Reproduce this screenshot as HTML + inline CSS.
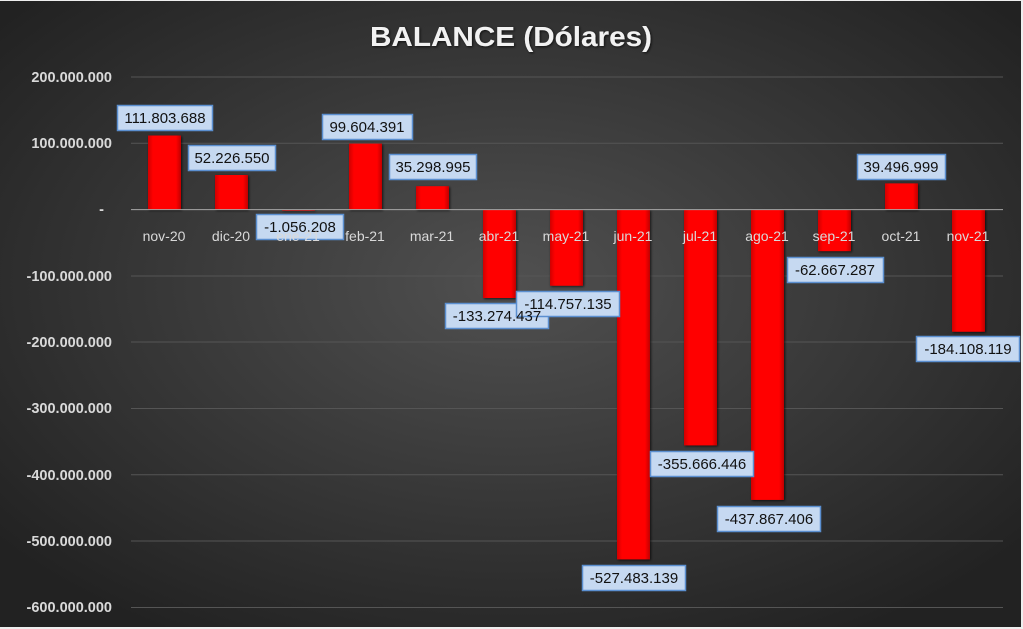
<!DOCTYPE html>
<html><head><meta charset="utf-8"><style>
html,body{margin:0;padding:0;background:#333;}
svg{display:block;}
</style></head><body>
<svg width="1023" height="629" viewBox="0 0 1023 629" xmlns="http://www.w3.org/2000/svg" font-family="'Liberation Sans', sans-serif">
<defs>
<radialGradient id="bg" cx="50%" cy="45%" r="65%">
<stop offset="0" stop-color="#505050"/>
<stop offset="1" stop-color="#222"/>
</radialGradient>
<linearGradient id="bar" x1="0" x2="1" y1="0" y2="0">
<stop offset="0" stop-color="#d00000"/>
<stop offset="0.15" stop-color="#ff0000"/>
<stop offset="0.85" stop-color="#ff0000"/>
<stop offset="1" stop-color="#c00000"/>
</linearGradient>
<filter id="sh" x="-20%" y="-20%" width="140%" height="140%"><feDropShadow dx="1" dy="1" stdDeviation="1.2" flood-color="#000" flood-opacity="0.7"/></filter>
</defs>
<rect width="1023" height="629" fill="url(#bg)"/>
<rect x="0" y="0" width="1023" height="1" fill="#eee"/>
<rect x="0" y="627" width="1023" height="2" fill="#eee"/>
<rect x="1021" y="0" width="2" height="629" fill="#eee"/>
<text x="511" y="46" text-anchor="middle" font-size="28" font-weight="bold" fill="#f2f2f2" textLength="282" lengthAdjust="spacingAndGlyphs" filter="url(#sh)">BALANCE (Dólares)</text>
<g stroke="#555" stroke-width="1">
<line x1="131" x2="1003" y1="77" y2="77"/>
<line x1="131" x2="1003" y1="143.3" y2="143.3"/>
<line x1="131" x2="1003" y1="276" y2="276"/>
<line x1="131" x2="1003" y1="342" y2="342"/>
<line x1="131" x2="1003" y1="408.5" y2="408.5"/>
<line x1="131" x2="1003" y1="474.7" y2="474.7"/>
<line x1="131" x2="1003" y1="541" y2="541"/>
<line x1="131" x2="1003" y1="607.5" y2="607.5"/>
</g>
<g font-size="14.5" font-weight="bold" fill="#d9d9d9" text-anchor="end">
<text x="112" y="82">200.000.000</text>
<text x="112" y="148">100.000.000</text>
<text x="104" y="214">-</text>
<text x="112" y="281">-100.000.000</text>
<text x="112" y="347">-200.000.000</text>
<text x="112" y="413">-300.000.000</text>
<text x="112" y="480">-400.000.000</text>
<text x="112" y="546">-500.000.000</text>
<text x="112" y="612">-600.000.000</text>
</g>
<g fill="url(#bar)" filter="url(#sh)">
<rect x="148" y="135.5" width="33" height="74"/>
<rect x="215" y="175" width="33" height="34.6"/>
<rect x="282" y="209.6" width="33" height="1"/>
<rect x="349" y="143.6" width="33" height="66"/>
<rect x="416" y="186.2" width="33" height="23.4"/>
<rect x="483" y="209.6" width="33" height="88.4"/>
<rect x="550" y="209.6" width="33" height="76.1"/>
<rect x="617" y="209.6" width="33" height="349.8"/>
<rect x="684" y="209.6" width="33" height="235.8"/>
<rect x="751" y="209.6" width="33" height="290.3"/>
<rect x="818" y="209.6" width="33" height="41.5"/>
<rect x="885" y="183.4" width="33" height="26.2"/>
<rect x="952" y="209.6" width="33" height="122.1"/>
</g>
<line x1="131" x2="1003" y1="209.6" y2="209.6" stroke="#a6a6a6" stroke-width="1"/>
<g fill="#c6d9f1" stroke="#5b8fd0" stroke-width="1.5">
<rect x="117.5" y="105.5" width="95" height="25"/>
<rect x="188.5" y="145.5" width="87" height="25"/>
<rect x="256.5" y="214.5" width="87" height="25"/>
<rect x="322.5" y="114.5" width="90" height="25"/>
<rect x="389.5" y="154.5" width="87" height="25"/>
<rect x="445.5" y="303.5" width="103" height="25"/>
<rect x="516.5" y="291.5" width="103" height="25"/>
<rect x="582.5" y="565.5" width="103" height="25"/>
<rect x="650.5" y="451.5" width="103" height="25"/>
<rect x="717.5" y="506.5" width="103" height="25"/>
<rect x="787.5" y="257.5" width="96" height="25"/>
<rect x="857.5" y="154.5" width="88" height="25"/>
<rect x="916.5" y="336.5" width="103" height="25"/>
</g>
<g font-size="15" fill="#111" text-anchor="middle">
<text x="165" y="123">111.803.688</text>
<text x="232" y="163">52.226.550</text>
<text x="300" y="232">-1.056.208</text>
<text x="367" y="132">99.604.391</text>
<text x="433" y="172">35.298.995</text>
<text x="497" y="321">-133.274.437</text>
<text x="568" y="309">-114.757.135</text>
<text x="634" y="583">-527.483.139</text>
<text x="702" y="469">-355.666.446</text>
<text x="769" y="524">-437.867.406</text>
<text x="835" y="275">-62.667.287</text>
<text x="901" y="172">39.496.999</text>
<text x="968" y="354">-184.108.119</text>
</g>
<g font-size="14" fill="#d9d9d9" text-anchor="middle">
<text x="164" y="241">nov-20</text>
<text x="231" y="241">dic-20</text>
<text x="298" y="241">ene-21</text>
<text x="365" y="241">feb-21</text>
<text x="432" y="241">mar-21</text>
<text x="499" y="241">abr-21</text>
<text x="566" y="241">may-21</text>
<text x="633" y="241">jun-21</text>
<text x="700" y="241">jul-21</text>
<text x="767" y="241">ago-21</text>
<text x="834" y="241">sep-21</text>
<text x="901" y="241">oct-21</text>
<text x="968" y="241">nov-21</text>
</g>
</svg>
</body></html>
